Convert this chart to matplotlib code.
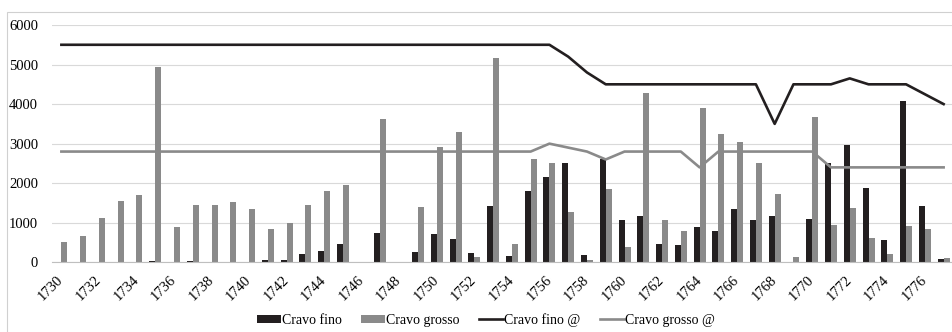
import matplotlib.pyplot as plt
import matplotlib.patches as mpatches
import numpy as np

plt.rcParams['font.family'] = ['Liberation Serif', 'DejaVu Serif']

# ---- data ----
years = list(range(1730, 1778))

cravo_fino = [0, 0, 0, 0, 0, 40, 0, 25, 0, 0,
              20, 50, 60, 210, 290, 460, 0, 740, 0, 270,
              710, 590, 230, 1430, 150, 1800, 2160, 2500, 185, 2600,
              1060, 1180, 460, 450, 890, 780, 1340, 1060, 1160, 0,
              1090, 2500, 2960, 1890, 555, 4090, 1430, 75]

cravo_grosso = [520, 670, 1130, 1560, 1690, 4940, 880, 1450, 1450, 1530,
                1360, 830, 1000, 1450, 1810, 1960, 0, 3630, 0, 1400,
                2910, 3290, 125, 5170, 455, 2620, 2500, 1270, 50, 1860,
                390, 4270, 1060, 790, 3910, 3240, 3040, 2500, 1730, 135,
                3680, 940, 1380, 615, 210, 925, 840, 100]

cravo_fino_preco = [5500, 5500, 5500, 5500, 5500, 5500, 5500, 5500, 5500, 5500,
                    5500, 5500, 5500, 5500, 5500, 5500, 5500, 5500, 5500, 5500,
                    5500, 5500, 5500, 5500, 5500, 5500, 5500, 5200, 4800, 4500,
                    4500, 4500, 4500, 4500, 4500, 4500, 4500, 4500, 3500, 4500,
                    4500, 4500, 4650, 4500, 4500, 4500, 4250, 4000]

cravo_grosso_preco = [2800, 2800, 2800, 2800, 2800, 2800, 2800, 2800, 2800, 2800,
                      2800, 2800, 2800, 2800, 2800, 2800, 2800, 2800, 2800, 2800,
                      2800, 2800, 2800, 2800, 2800, 2800, 3000, 2900, 2800, 2600,
                      2800, 2800, 2800, 2800, 2400, 2800, 2800, 2800, 2800, 2800,
                      2800, 2400, 2400, 2400, 2400, 2400, 2400, 2400]

BLACK = '#231f20'
GRAY = '#8a8a8a'

fig = plt.figure(figsize=(9.53, 3.32), dpi=100)

# light frame of the original chart area
fig.patches.append(mpatches.Rectangle((7 / 953, -0.1), 1.2, 1 - 12 / 332 + 0.1,
                                      transform=fig.transFigure, fill=False,
                                      edgecolor='#d0d0d0', linewidth=0.8))

ax = fig.add_axes([52 / 953, 1 - 262.3 / 332, (953 - 52) / 953, (262.3 - 25) / 332])

x = np.arange(len(years))
w = 0.32
b1 = ax.bar(x - w / 2, cravo_fino, width=w, color=BLACK, label='Cravo fino', zorder=2)
b2 = ax.bar(x + w / 2, cravo_grosso, width=w, color=GRAY, label='Cravo grosso', zorder=2)
l1, = ax.plot(x, cravo_fino_preco, color=BLACK, lw=1.9, label='Cravo fino @', zorder=3)
l2, = ax.plot(x, cravo_grosso_preco, color=GRAY, lw=1.9, label='Cravo grosso @', zorder=3)

ax.set_xlim(-0.5, len(years) - 0.5)
ax.set_ylim(0, 6000)
ax.set_yticks(range(0, 6001, 1000))
ax.yaxis.grid(True, color='#d9d9d9', lw=0.8, zorder=0)
ax.set_axisbelow(True)

ax.set_xticks(x[::2])
ax.set_xticklabels([str(y) for y in years[::2]], rotation=45, ha='right',
                   va='center', rotation_mode='anchor')
ax.tick_params(axis='both', length=0, labelsize=10.5)
ax.tick_params(axis='x', pad=11)
ax.tick_params(axis='y', pad=10)

for s in ['top', 'right', 'left']:
    ax.spines[s].set_visible(False)
ax.spines['bottom'].set_color('#bfbfbf')
ax.spines['bottom'].set_linewidth(0.8)

fig.legend([b1, b2, l1, l2], ['Cravo fino', 'Cravo grosso', 'Cravo fino @', 'Cravo grosso @'],
           loc='center', bbox_to_anchor=(486 / 953, 1 - 320 / 332), ncol=4,
           frameon=False, fontsize=10, handlelength=1.7, handleheight=0.55,
           handletextpad=0.1, columnspacing=1.4)

fig.savefig('out.png', dpi=100)
